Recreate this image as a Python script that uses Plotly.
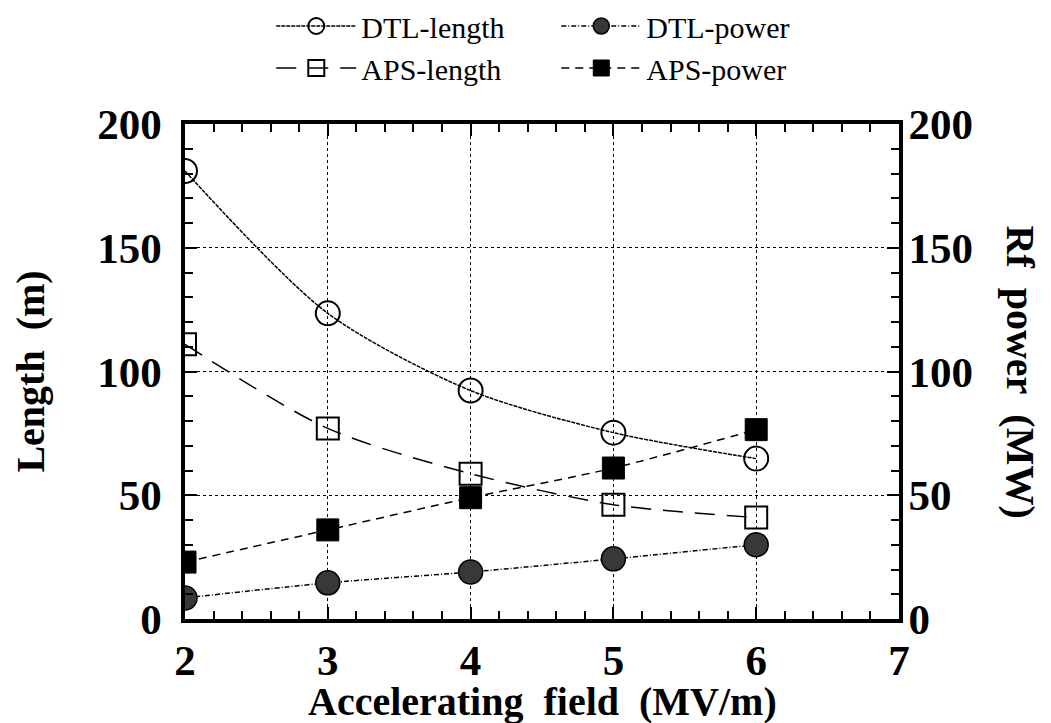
import plotly.graph_objects as go

field = [2, 3, 4, 5, 6]
dtl_length = [181, 123.5, 92.3, 75.3, 64.8]
dtl_power = [8.5, 14.6, 19.0, 24.3, 30.0]
aps_length = [111, 77, 58.7, 46.2, 41.0]
aps_power = [23.0, 36.0, 49.0, 61.0, 76.5]

SERIF = "Liberation Serif, Times New Roman, serif"

fig = go.Figure()

fig.add_trace(go.Scatter(
    x=field, y=dtl_length, name="DTL-length", mode="lines+markers",
    line=dict(color="black", width=1.5, dash="4px,1px", shape="spline", smoothing=0.8),
    marker=dict(symbol="circle-open", size=24, color="black", line=dict(width=2))))
fig.add_trace(go.Scatter(
    x=field, y=dtl_power, name="DTL-power", mode="lines+markers", yaxis="y2",
    line=dict(color="black", width=1.5, dash="5px,2px,1px,2px", shape="spline", smoothing=0.8),
    marker=dict(symbol="circle", size=24, color="#383838", line=dict(width=1.5, color="black"))))
fig.add_trace(go.Scatter(
    x=field, y=aps_length, name="APS-length", mode="lines+markers",
    line=dict(color="black", width=1.5, dash="20px,12px", shape="spline", smoothing=0.8),
    marker=dict(symbol="square-open", size=22, color="black", line=dict(width=2))))
fig.add_trace(go.Scatter(
    x=field, y=aps_power, name="APS-power", mode="lines+markers", yaxis="y2",
    line=dict(color="black", width=1.5, dash="8px,6px", shape="spline", smoothing=0.8),
    marker=dict(symbol="square", size=22, color="black", line=dict(width=1, color="black"))))

tickfont = dict(family=SERIF, size=43, color="black", weight="bold")
titlefont = dict(family=SERIF, size=40, color="black", weight="bold")

fig.update_layout(
    width=1051, height=723,
    margin=dict(l=185, r=152, t=124, b=104),
    paper_bgcolor="white", plot_bgcolor="white",
    xaxis=dict(
        range=[2, 7], dtick=1, tick0=2, mirror="ticks",
        showline=True, linewidth=4, linecolor="black",
        ticks="inside", ticklen=12, tickwidth=2, tickcolor="black",
        zeroline=False, tickfont=tickfont, automargin=False,
        showgrid=True, gridcolor="black", griddash="dot",
        minor=dict(dtick=0.2, ticks="inside", ticklen=8, tickwidth=2, tickcolor="black")),
    yaxis=dict(
        range=[0, 200], dtick=50, tick0=0, mirror="ticks",
        showline=True, linewidth=4, linecolor="black",
        ticks="inside", ticklen=12, tickwidth=2, tickcolor="black",
        zeroline=False, tickfont=tickfont, automargin=False,
        showgrid=True, gridcolor="black", griddash="dot",
        minor=dict(dtick=10, ticks="inside", ticklen=8, tickwidth=2, tickcolor="black"),
        ticksuffix="\u00a0"),
    yaxis2=dict(
        range=[0, 200], dtick=50, tick0=0, overlaying="y", side="right",
        showline=False, ticks="", showgrid=False, zeroline=False,
        tickfont=tickfont, automargin=False, tickprefix="\u2009"),
    legend=dict(orientation="h", x=0.52, xanchor="center",
                yref="container", y=0.935, yanchor="middle",
                font=dict(family=SERIF, size=30, color="black"),
                itemwidth=80, entrywidth=190, tracegroupgap=0, bgcolor="rgba(0,0,0,0)"),
    annotations=[
        dict(text="Accelerating\u00a0\u00a0field\u00a0\u00a0(MV/m)", showarrow=False,
             xref="paper", yref="paper", x=0.5, xanchor="center", y=0, yshift=-82, yanchor="middle",
             font=titlefont),
        dict(text="Length\u00a0\u00a0(m)", textangle=-90, showarrow=False,
             xref="paper", yref="paper", x=-0.217, xanchor="center", y=0.5, yanchor="middle",
             font=titlefont),
        dict(text="Rf\u00a0\u00a0power\u00a0\u00a0(MW)", textangle=90, showarrow=False,
             xref="paper", yref="paper", x=1.0, xanchor="center", xshift=121, y=0.5, yanchor="middle",
             font=titlefont),
    ],
)

fig.write_html("out.html")
